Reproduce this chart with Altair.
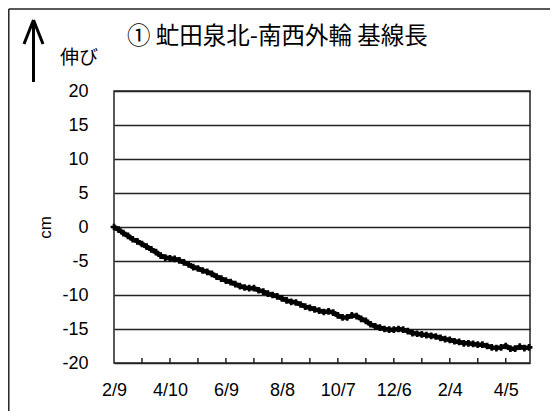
import altair as alt
import pandas as pd

# ---- data ----
days = [0, 5, 10, 15, 20, 25, 30, 35, 40, 45, 50, 55, 60, 65, 70, 75, 80, 85, 90, 95,
        100, 105, 110, 115, 120, 125, 130, 135, 140, 145, 150, 155, 160, 165, 170, 175,
        180, 185, 190, 195, 200, 205, 210, 215, 220, 225, 230, 235, 240, 245, 250, 255,
        260, 265, 270, 275, 280, 285, 290, 295, 300, 305, 310, 315, 320, 325, 330, 335,
        340, 345, 350, 355, 360, 365, 370, 375, 380, 385, 390, 395, 400, 405, 410, 415,
        420, 425, 430, 435, 440, 445]
extension_cm = [0.0, -0.4, -0.9, -1.3, -1.8, -2.1, -2.5, -2.9, -3.3, -3.7, -4.2, -4.5,
                -4.6, -4.7, -4.9, -5.2, -5.5, -5.9, -6.1, -6.4, -6.6, -6.9, -7.3, -7.6,
                -7.9, -8.1, -8.4, -8.7, -8.9, -9.0, -9.0, -9.3, -9.5, -9.8, -10.0, -10.2,
                -10.5, -10.8, -11.0, -11.1, -11.4, -11.7, -11.9, -12.1, -12.3, -12.5,
                -12.4, -12.6, -13.0, -13.3, -13.3, -13.0, -13.1, -13.5, -13.8, -14.3,
                -14.6, -14.8, -15.0, -15.1, -15.1, -15.0, -15.1, -15.3, -15.6, -15.7,
                -15.8, -15.9, -16.0, -16.1, -16.3, -16.5, -16.6, -16.8, -16.9, -17.1,
                -17.1, -17.2, -17.3, -17.3, -17.5, -17.7, -17.8, -17.7, -17.5, -17.9,
                -17.9, -17.6, -17.8, -17.7]
tick_days = [0, 60, 120, 180, 240, 300, 360, 420]
tick_labels = ["2/9", "4/10", "6/9", "8/8", "10/7", "12/6", "2/4", "4/5"]
minor_tick_days = [30, 60, 90, 120, 150, 180, 210, 240, 270, 300, 330, 360, 390, 420]
y_ticks = [-20, -15, -10, -5, 0, 5, 10, 15, 20]
title_text = "① 虻田泉北-南西外輪 基線長"
up_text = "伸び"
y_title = "cm"

W, H = 416, 272
PAD = {"left": 106, "top": 83, "right": 20, "bottom": 48}

df = pd.DataFrame({"day": days, "cm": extension_cm})
ticks_df = pd.DataFrame({"day": minor_tick_days})

label_expr = "[" + ",".join("'%s'" % t for t in tick_labels) + "][round(datum.value/60)]"

x_scale = alt.Scale(domain=[0, 446], nice=False, zero=False)
y_scale = alt.Scale(domain=[-20, 20], nice=False, zero=False)

x_axis = alt.Axis(values=tick_days, labelExpr=label_expr, ticks=False,
                  domain=False, grid=False, title=None, labelPadding=18,
                  labelFontSize=18, labelFont="Liberation Sans",
                  labelColor="#000", labelOverlap=False, labelFlush=False,
                  labelBound=False)
y_axis = alt.Axis(values=y_ticks, tickCount=9, labelExpr="toString(datum.value)",
                  ticks=False, domain=False, grid=True,
                  gridColor="#222", gridWidth=1.5, title=y_title,
                  titleFont="Liberation Sans", titleFontSize=17,
                  titleFontWeight="normal", titleColor="#000",
                  titlePadding=7, labelPadding=26, labelFontSize=18,
                  labelFont="Liberation Sans", labelColor="#000",
                  labelOverlap=False, labelBound=False, labelFlush=False)

x_enc = alt.X("day:Q", scale=x_scale, axis=x_axis)
y_enc = alt.Y("cm:Q", scale=y_scale, axis=y_axis)

line = alt.Chart(df).mark_line(color="#000", strokeWidth=4.5).encode(x=x_enc, y=y_enc)
pts = alt.Chart(df).mark_point(shape="cross", filled=True, color="#000", size=45,
                               opacity=1).encode(x=x_enc, y=y_enc)

ticks = alt.Chart(ticks_df).mark_rule(color="#222", strokeWidth=1.5).encode(
    x=x_enc, y=alt.value(H), y2=alt.value(H - 5))

one = pd.DataFrame({"t": [title_text], "u": [up_text]})
title = alt.Chart(one).mark_text(align="left", baseline="middle", fontSize=23.5,
                                 font="Noto Sans CJK JP", color="#000").encode(
    text="t:N", x=alt.value(13), y=alt.value(-54))
up = alt.Chart(one).mark_text(align="left", baseline="middle", fontSize=19,
                              font="Noto Sans CJK JP", color="#000").encode(
    text="u:N", x=alt.value(-54), y=alt.value(-33))

stem = alt.Chart(one).mark_rule(color="#000", strokeWidth=3).encode(
    x=alt.value(-80.5), y=alt.value(-70), y2=alt.value(-9))
head_l = alt.Chart(one).mark_rule(color="#000", strokeWidth=3).encode(
    x=alt.value(-80.5), y=alt.value(-71), x2=alt.value(-90), y2=alt.value(-47))
head_r = alt.Chart(one).mark_rule(color="#000", strokeWidth=3).encode(
    x=alt.value(-80.5), y=alt.value(-71), x2=alt.value(-71), y2=alt.value(-47))

frame_l = alt.Chart(one).mark_rule(color="#222", strokeWidth=1.5).encode(
    x=alt.value(-105.2), y=alt.value(-82), y2=alt.value(H + PAD["bottom"]))
frame_t = alt.Chart(one).mark_rule(color="#222", strokeWidth=1.5).encode(
    x=alt.value(-105.2), x2=alt.value(W + PAD["right"]), y=alt.value(-82))

chart = alt.layer(line, pts, ticks, title, up, stem, head_l, head_r, frame_l, frame_t).properties(
    width=W, height=H, padding=PAD,
    autosize=alt.AutoSizeParams(type="none"),
    background="white",
).configure_view(stroke="#222", strokeWidth=1.5)

chart.save("out.html", embed_options={"renderer": "svg", "actions": False})
